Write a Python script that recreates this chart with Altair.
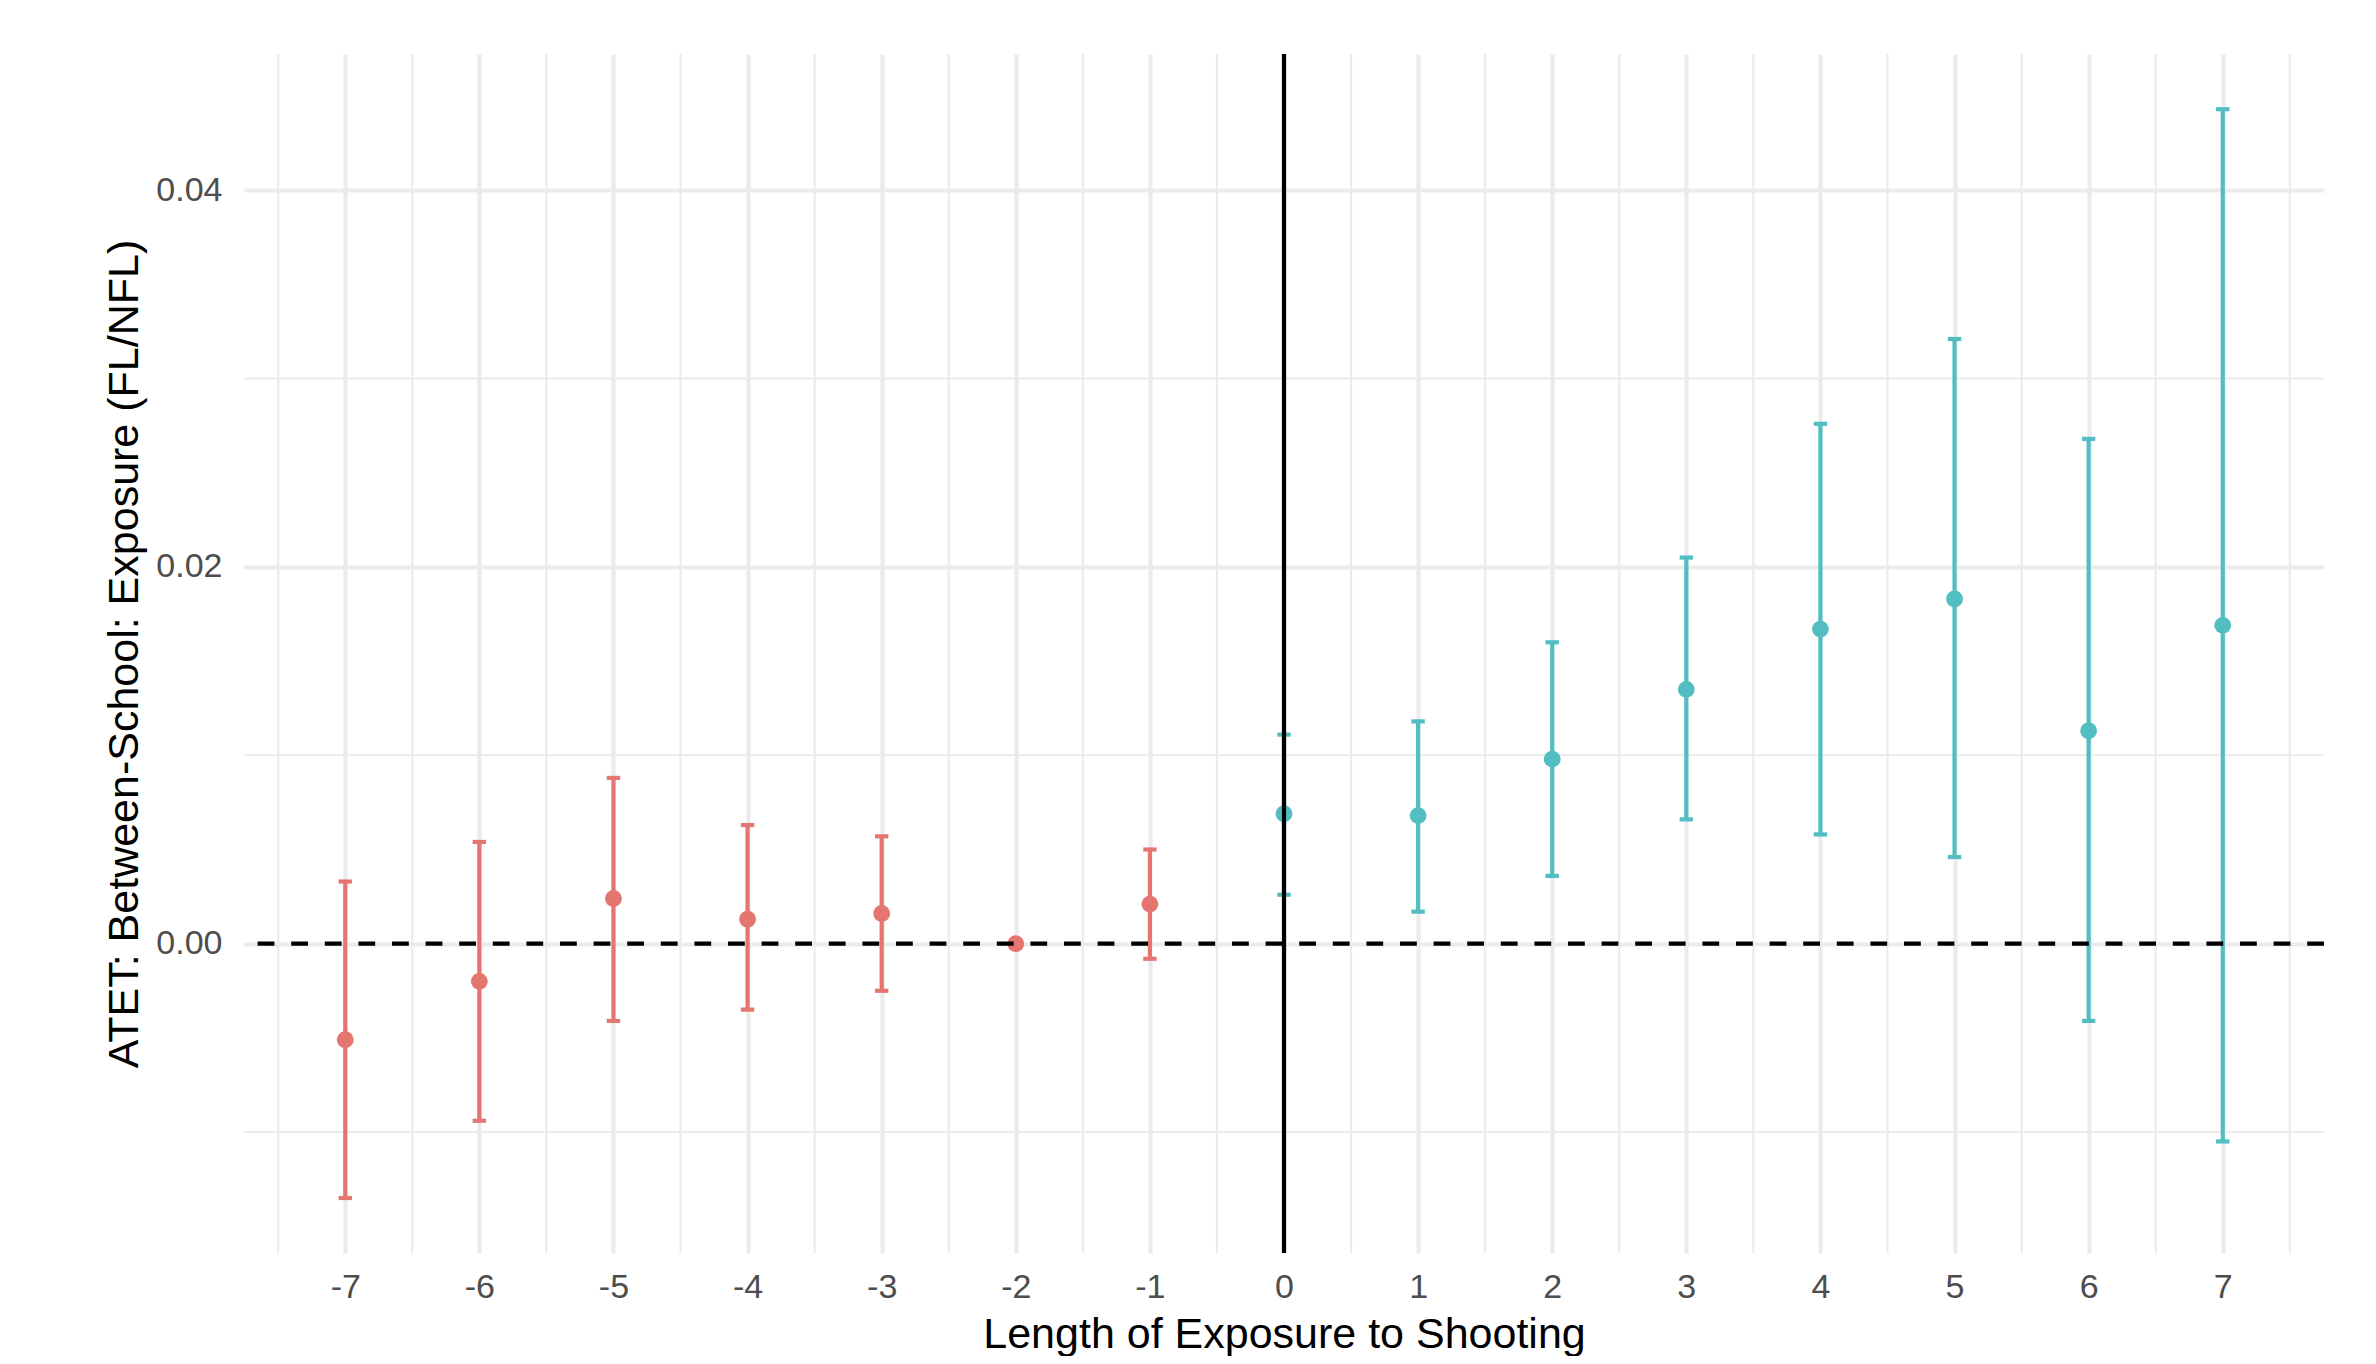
import altair as alt
import pandas as pd

# ---- data ----
lag = [-7, -6, -5, -4, -3, -2, -1, 0, 1, 2, 3, 4, 5, 6, 7]
estimate = [-0.0051, -0.0020, 0.0024, 0.0013, 0.0016, 0.0000, 0.0021, 0.0069,
            0.0068, 0.0098, 0.0135, 0.0167, 0.0183, 0.0113, 0.0169]
ci_low = [-0.0135, -0.0094, -0.0041, -0.0035, -0.0025, 0.0000, -0.0008, 0.0026,
          0.0017, 0.0036, 0.0066, 0.0058, 0.0046, -0.0041, -0.0105]
ci_high = [0.0033, 0.0054, 0.0088, 0.0063, 0.0057, 0.0000, 0.0050, 0.0111,
           0.0118, 0.0160, 0.0205, 0.0276, 0.0321, 0.0268, 0.0443]
period = ["pre"] * 7 + ["post"] * 8

x_ticks = [-7, -6, -5, -4, -3, -2, -1, 0, 1, 2, 3, 4, 5, 6, 7]
x_minor = [-7.5, -6.5, -5.5, -4.5, -3.5, -2.5, -1.5, -0.5, 0.5, 1.5, 2.5, 3.5, 4.5, 5.5, 6.5, 7.5]
y_ticks = [0.0, 0.02, 0.04]
y_minor = [-0.01, 0.01, 0.03]
x_domain = [-7.755, 7.755]
y_domain = [-0.01642, 0.04723]
cap_half = 0.05

RED = "#E5766F"
CYAN = "#53BEC2"
GRID = "#EBEBEB"
FONT = "Liberation Sans"

df = pd.DataFrame({"lag": lag, "est": estimate, "lo": ci_low, "hi": ci_high, "period": period})
df["xl"] = df["lag"] - cap_half
df["xr"] = df["lag"] + cap_half

W, H = 2080, 1199

xscale = alt.Scale(domain=x_domain, nice=False, zero=False)
yscale = alt.Scale(domain=y_domain, nice=False, zero=False)
cscale = alt.Scale(domain=["pre", "post"], range=[RED, CYAN])

x_axis = alt.Axis(
    values=x_ticks, labelExpr="'' + datum.value", title="Length of Exposure to Shooting",
    grid=True, gridColor=GRID, gridWidth=4.2, labelPadding=44, labelBaseline="alphabetic",
    titleX=W / 2, titleY=94, titleAlign="center", titleBaseline="alphabetic",
)
y_axis = alt.Axis(
    values=y_ticks, labelExpr="format(datum.value, '.2f')",
    title="ATET: Between-School: Exposure (FL/NFL)",
    grid=True, gridColor=GRID, gridWidth=4.2, labelPadding=22,
    titleX=-107, titleY=H / 2, titleAngle=270, titleAlign="center", titleBaseline="alphabetic",
)

base = alt.Chart(df)

minor_x = alt.Chart(pd.DataFrame({"v": x_minor})).mark_rule(color=GRID, strokeWidth=2.1).encode(
    x=alt.X("v:Q", scale=xscale, axis=x_axis)
)
minor_y = alt.Chart(pd.DataFrame({"v": y_minor})).mark_rule(color=GRID, strokeWidth=2.1).encode(
    y=alt.Y("v:Q", scale=yscale, axis=y_axis)
)

bars = base.mark_rule(strokeWidth=4.2).encode(
    x=alt.X("lag:Q", scale=xscale),
    y=alt.Y("lo:Q", scale=yscale),
    y2="hi:Q",
    color=alt.Color("period:N", scale=cscale, legend=None),
)
cap_top = base.mark_rule(strokeWidth=4.2, strokeCap="butt").encode(
    x=alt.X("xl:Q", scale=xscale), x2="xr:Q",
    y=alt.Y("hi:Q", scale=yscale),
    color=alt.Color("period:N", scale=cscale, legend=None),
)
cap_bot = base.mark_rule(strokeWidth=4.2, strokeCap="butt").encode(
    x=alt.X("xl:Q", scale=xscale), x2="xr:Q",
    y=alt.Y("lo:Q", scale=yscale),
    color=alt.Color("period:N", scale=cscale, legend=None),
)
points = base.mark_circle(size=284, opacity=1).encode(
    x=alt.X("lag:Q", scale=xscale),
    y=alt.Y("est:Q", scale=yscale),
    color=alt.Color("period:N", scale=cscale, legend=None),
)
hline = alt.Chart(pd.DataFrame({"v": [0.0]})).mark_rule(
    color="black", strokeWidth=4.2, strokeDash=[16.8, 16.8]
).encode(y=alt.Y("v:Q", scale=yscale))
vline = alt.Chart(pd.DataFrame({"v": [0.0]})).mark_rule(
    color="black", strokeWidth=4.2
).encode(x=alt.X("v:Q", scale=xscale))

chart = alt.layer(minor_x, minor_y, bars, cap_top, cap_bot, points, hline, vline).properties(
    width=W, height=H,
    autosize=alt.AutoSizeParams(type="none"),
    padding={"left": 236, "top": 46, "right": 44, "bottom": 103},
    background="white",
).configure_view(stroke=None).configure_axis(
    domain=False, ticks=False, tickSize=0,
    labelFont=FONT, labelFontSize=34, labelColor="#4D4D4D",
    titleFont=FONT, titleFontSize=43, titleColor="black", titleFontWeight="normal",
)

chart.save("out.html", embed_options={"renderer": "svg", "actions": False})
